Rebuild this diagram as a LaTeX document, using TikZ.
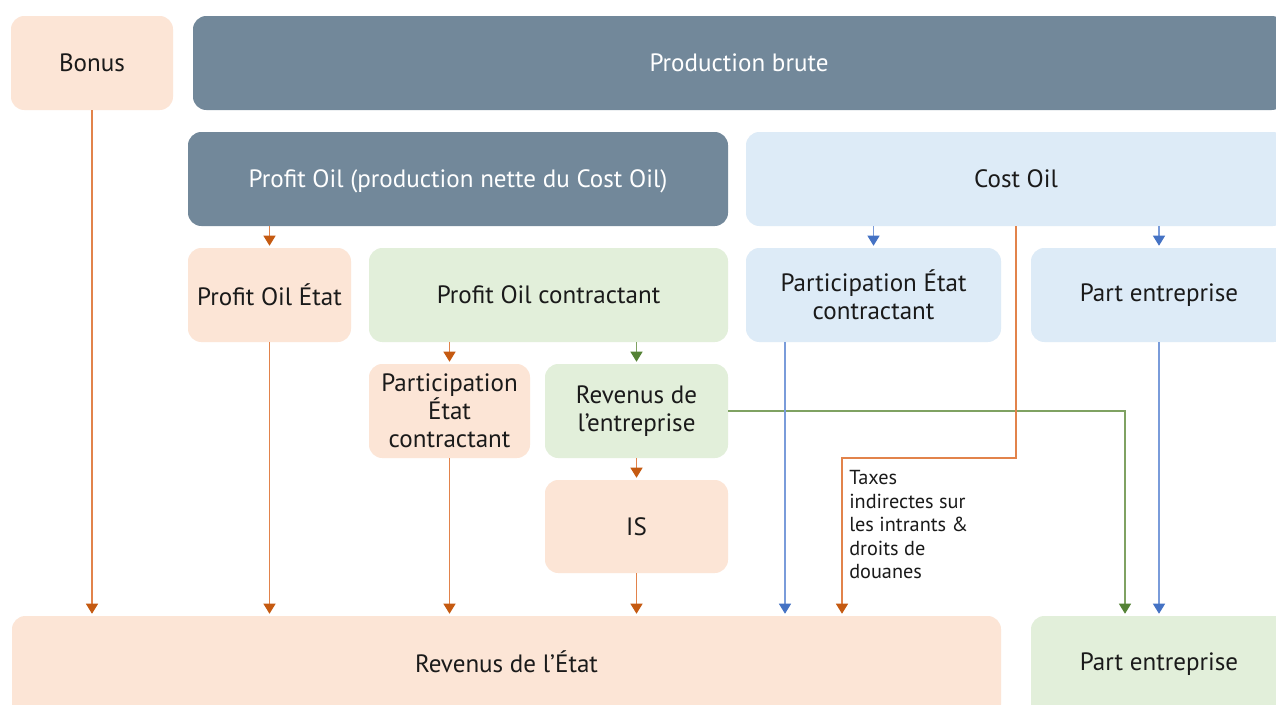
\documentclass[tikz,border=0pt]{standalone}
\usepackage{fontspec}
\setmainfont{PT Sans}
\usetikzlibrary{arrows.meta,calc}
\definecolor{slate}{HTML}{72889A}
\definecolor{peach}{HTML}{FCE5D6}
\definecolor{lgreen}{HTML}{E2EFDA}
\definecolor{lblue}{HTML}{DDEBF7}
\definecolor{oline}{HTML}{E2834B}
\definecolor{otip}{HTML}{C55A11}
\definecolor{bline}{HTML}{7A9CDA}
\definecolor{btip}{HTML}{4472C4}
\definecolor{gline}{HTML}{7FA262}
\definecolor{gtip}{HTML}{548235}
\definecolor{txt}{HTML}{1A1A1A}
\tikzset{
  box/.style={rounded corners=10pt, inner sep=2pt, align=center, text=txt,
    font=\fontsize{18.8}{21}\selectfont},
  darkbox/.style={box, fill=slate, text=white},
  peachbox/.style={box, fill=peach},
  greenbox/.style={box, fill=lgreen},
  bluebox/.style={box, fill=lblue},
  oarr/.style={draw=oline, line width=0.8pt, shorten >=1.5pt, -{Triangle[length=7.5pt,width=9pt,color=otip]}},
  barr/.style={draw=bline, line width=0.8pt, shorten >=1.5pt, -{Triangle[length=7.5pt,width=9pt,color=btip]}},
  garr/.style={draw=gline, line width=0.8pt, shorten >=1.5pt, -{Triangle[length=7.5pt,width=9pt,color=gtip]}},
}
\begin{document}
\begin{tikzpicture}[x=0.75pt,y=-0.75pt]
\useasboundingbox (0,0) rectangle (1276,704);
\clip (0,0) rectangle (1276,704);
\fill[white] (0,0) rectangle (1276,704);
% nodes
\node[peachbox, minimum width=162*0.75pt, minimum height=94*0.75pt] (bonus) at (92,63) {Bonus};
\node[darkbox, minimum width=1092*0.75pt, minimum height=94*0.75pt] (prod) at (739,63) {Production brute};
\node[darkbox, minimum width=540*0.75pt, minimum height=94*0.75pt, text height=14pt, text depth=1pt] (profit) at (458,179) {Profit Oil (production nette du Cost Oil)};
\node[bluebox, minimum width=540*0.75pt, minimum height=94*0.75pt] (cost) at (1016,179) {Cost Oil};
\node[peachbox, minimum width=163*0.75pt, minimum height=94*0.75pt] (poe) at (269.5,295) {Profit Oil État};
\node[greenbox, minimum width=359*0.75pt, minimum height=94*0.75pt] (poc) at (548.5,295) {Profit Oil contractant};
\node[bluebox, minimum width=255*0.75pt, minimum height=94*0.75pt] (pecb) at (873.5,295) {Participation État\\contractant};
\node[bluebox, minimum width=256*0.75pt, minimum height=94*0.75pt] (peb) at (1159,295) {Part entreprise};
\node[peachbox, minimum width=161*0.75pt, minimum height=94*0.75pt] (pecp) at (449.5,411) {Participation\\État\\contractant};
\node[greenbox, minimum width=183*0.75pt, minimum height=94*0.75pt] (rev) at (636.5,411) {Revenus de\\l’entreprise};
\node[peachbox, minimum width=183*0.75pt, minimum height=93*0.75pt] (is) at (636.5,526.5) {IS};
\node[peachbox, minimum width=989*0.75pt, minimum height=120*0.75pt, text depth=21pt] (re) at (506.5,676) {Revenus de l’État};
\node[greenbox, minimum width=256*0.75pt, minimum height=120*0.75pt, text depth=21pt] (peg) at (1159,676) {Part entreprise};
\node[anchor=north west, align=left, inner sep=0pt, text=txt, font=\fontsize{15.2}{17.7}\selectfont] (taxlbl) at (849,470) {Taxes\\indirectes sur\\les intrants \&\\droits de\\douanes};
\coordinate (tx) at (842,458);
% connectors
\draw[oarr] (bonus.south) -- (bonus.south |- re.north);
\draw[oarr] (poe.north |- profit.south) -- (poe.north);
\draw[oarr] (poe.south) -- (poe.south |- re.north);
\draw[oarr] (pecp.north |- poc.south) -- (pecp.north);
\draw[garr] (rev.north |- poc.south) -- (rev.north);
\draw[oarr] (pecp.south) -- (pecp.south |- re.north);
\draw[oarr] (rev.south) -- (is.north);
\draw[oarr] (is.south) -- (is.south |- re.north);
\draw[barr] (pecb.north |- cost.south) -- (pecb.north);
\draw[barr] (peb.north |- cost.south) -- (peb.north);
\draw[garr] (rev.east) -| ($(peg.north)+(-34,0)$);
\draw[barr] ($(pecb.south)+(-88.5,0)$) -- ($(pecb.south |- re.north)+(-88.5,0)$);
\draw[oarr] (cost.south) |- (tx) -- (tx |- re.north);
\draw[barr] (peb.south) -- (peg.north);
\end{tikzpicture}
\end{document}
